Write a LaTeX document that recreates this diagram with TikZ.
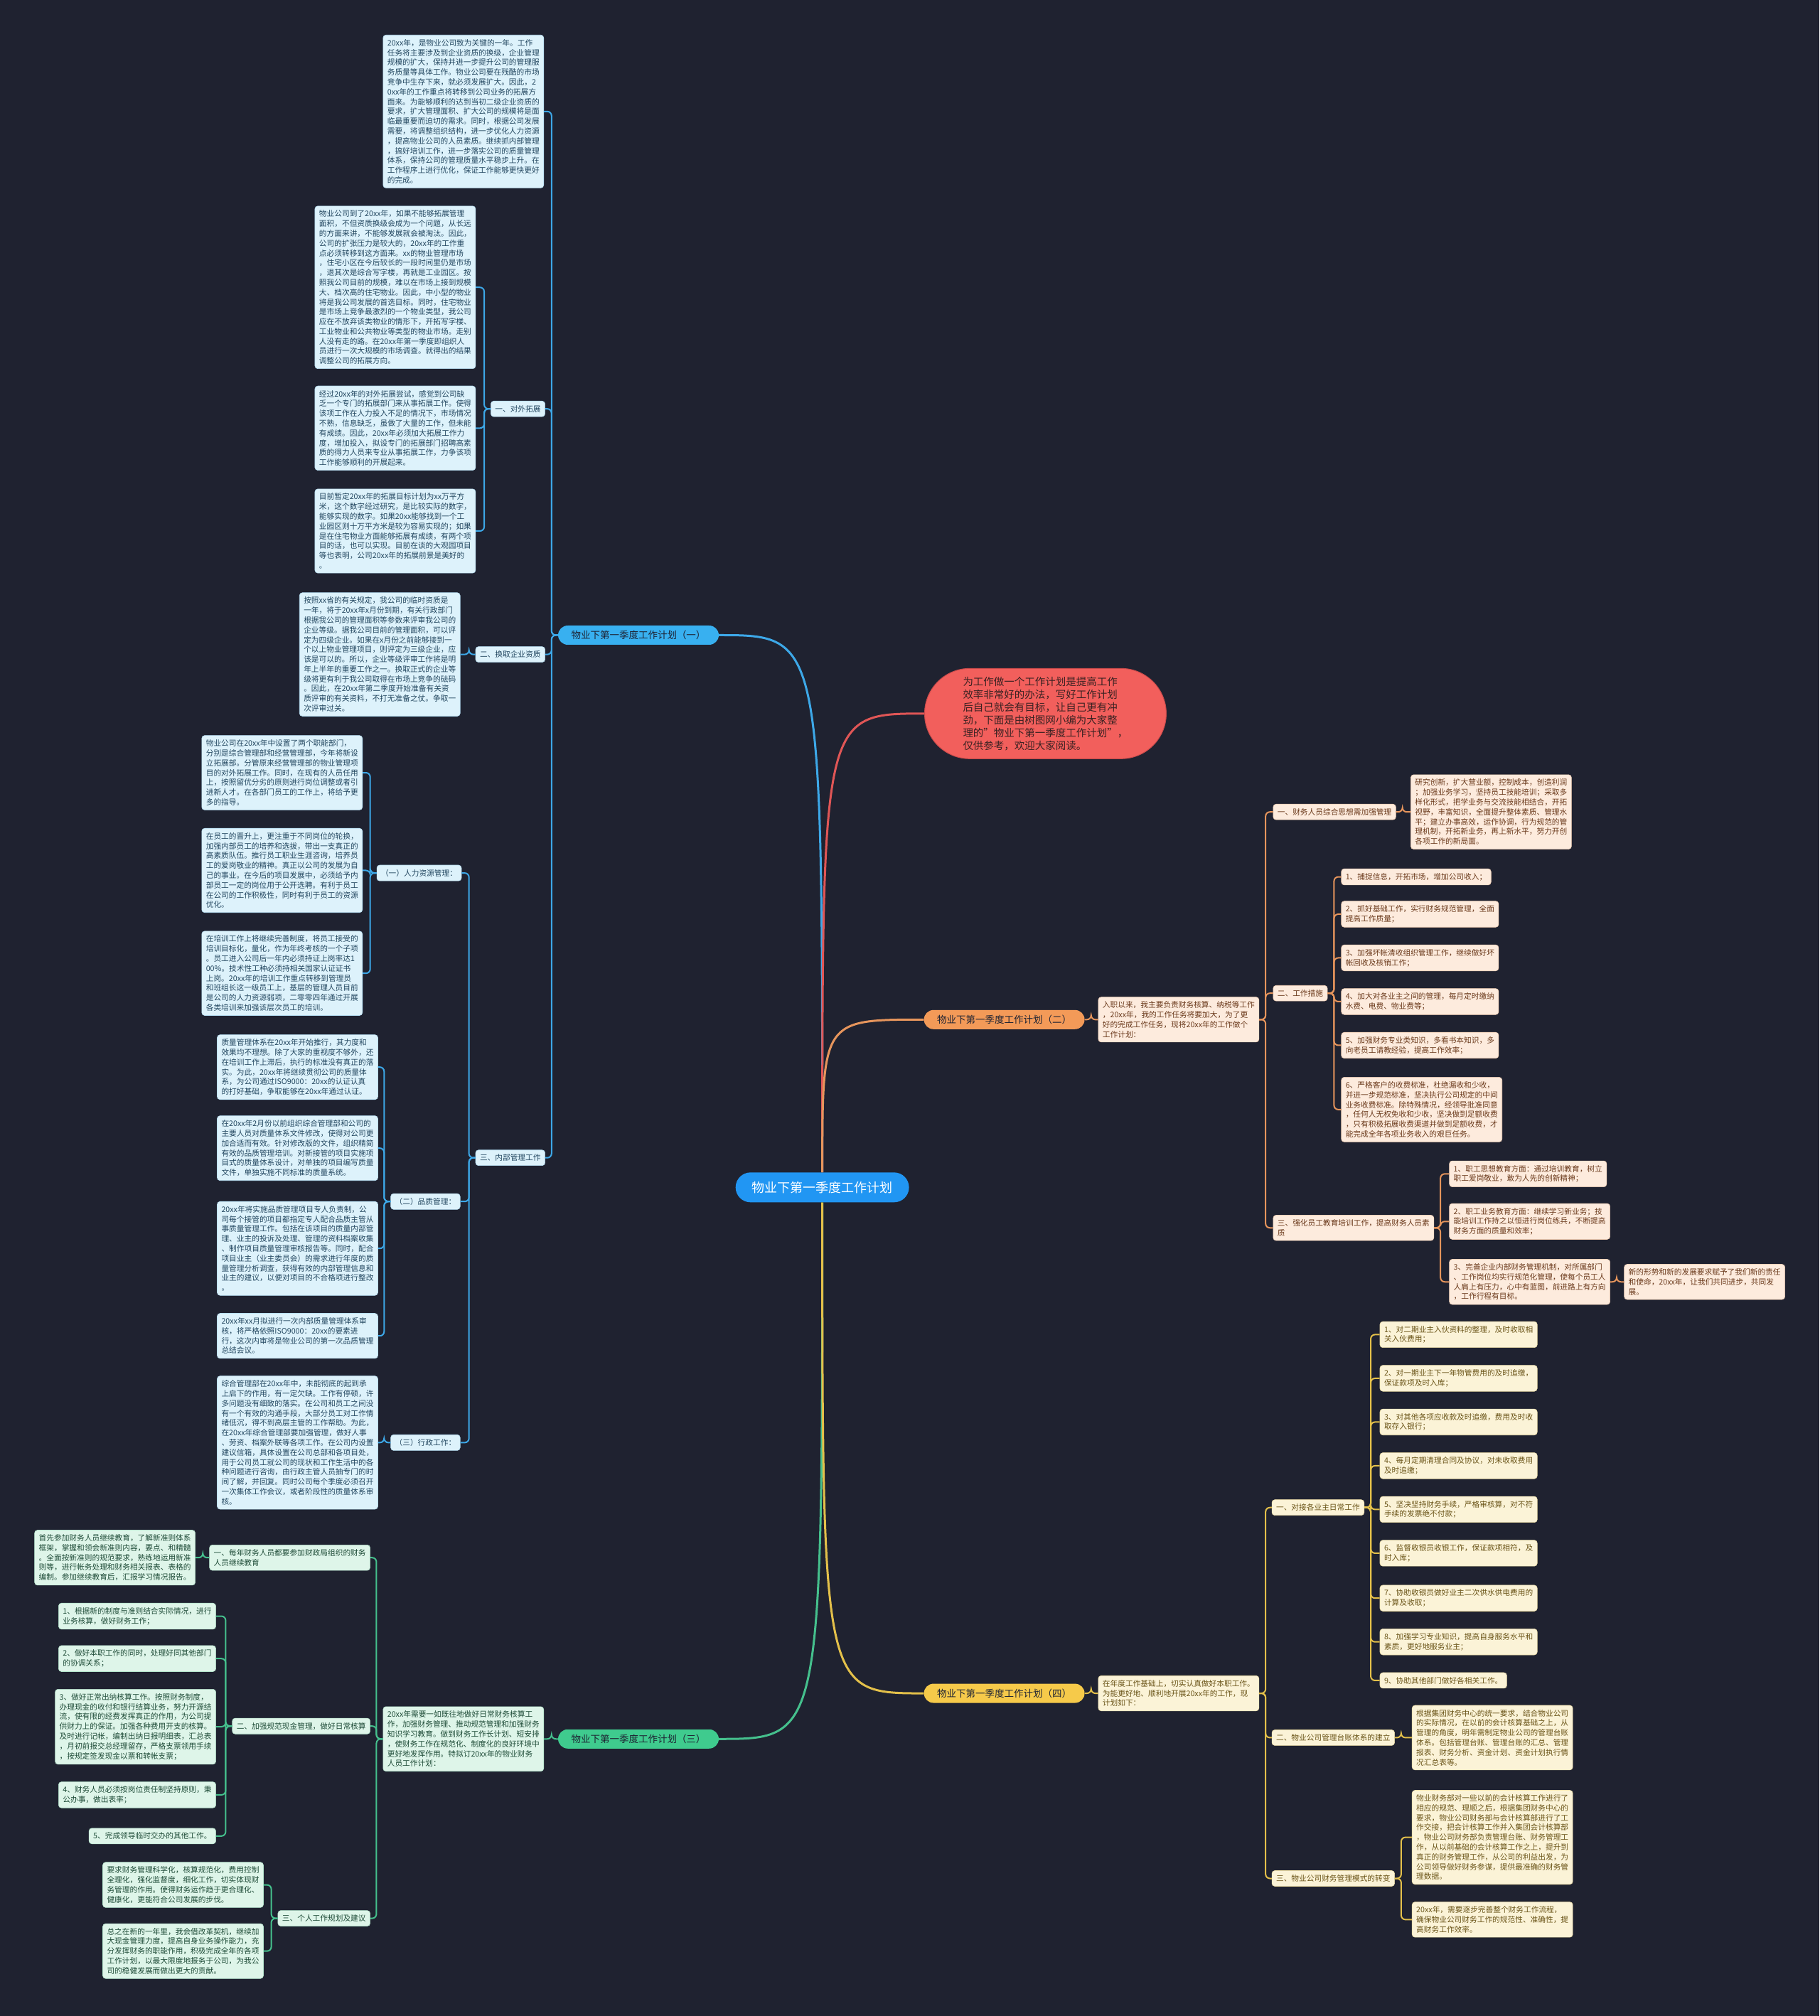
\documentclass[tikz,border=0pt]{standalone}
\usepackage{fontspec}
\setmainfont{Noto Sans CJK SC}
\usetikzlibrary{shapes.misc}
\definecolor{bg}{HTML}{1F2230}
\definecolor{bline}{HTML}{3DA8E8}
\definecolor{bfill}{HTML}{DDF2FB}
\definecolor{bdraw}{HTML}{B5DDF2}
\definecolor{btext}{HTML}{234760}
\definecolor{oline}{HTML}{E6955C}
\definecolor{ofill}{HTML}{FDEBDD}
\definecolor{odraw}{HTML}{F2CFB5}
\definecolor{otext}{HTML}{6B3A1C}
\definecolor{yline}{HTML}{E3C04A}
\definecolor{yfill}{HTML}{FBF3D7}
\definecolor{ydraw}{HTML}{EEDFA8}
\definecolor{ytext}{HTML}{6B5519}
\definecolor{gline}{HTML}{45C08D}
\definecolor{gfill}{HTML}{DEF5E9}
\definecolor{gdraw}{HTML}{B3E3CB}
\definecolor{gtext}{HTML}{1F4C38}
\definecolor{rfill}{HTML}{F25F5C}
\definecolor{rdraw}{HTML}{C94B4B}
\definecolor{rline}{HTML}{E05656}
\definecolor{rtext}{HTML}{3A2222}
\definecolor{cfill}{HTML}{2196F3}
\definecolor{dtext}{HTML}{1E2333}
\definecolor{bmain}{HTML}{38B0F0}
\definecolor{omain}{HTML}{F39A58}
\definecolor{gmain}{HTML}{3FCB8E}
\definecolor{ymain}{HTML}{F6CA4A}
\newcommand\leaffont{\fontsize{10.7pt}{13.8pt}\selectfont}
\newcommand\branchfont{\fontsize{13.5pt}{16pt}\selectfont}
\newcommand\centerfont{\fontsize{18pt}{21pt}\selectfont}
\newcommand\introfont{\fontsize{14.5pt}{18pt}\selectfont}
\newcommand\lconn[3]{\draw[#1] (#2.west) -- ++(-5,0) |- (#3.east);}
\newcommand\rconn[3]{\draw[#1] (#2.east) -- ++(5,0) |- (#3.west);}
\tikzset{
  leaf/.style={rounded corners=4pt, inner xsep=6pt, inner ysep=6pt, align=left, font=\leaffont, line width=0.6pt},
  bl/.style={leaf, fill=bfill, draw=bdraw, text=btext, anchor=east},
  gl/.style={leaf, fill=gfill, draw=gdraw, text=gtext, anchor=east},
  ol/.style={leaf, fill=ofill, draw=odraw, text=otext, anchor=west},
  yl/.style={leaf, fill=yfill, draw=ydraw, text=ytext, anchor=west},
  pill/.style={rounded rectangle, inner sep=0pt, minimum width=226pt, minimum height=27pt, font=\branchfont, text=dtext},
  lb/.style={draw=bline, line width=2pt, rounded corners=6pt},
  lo/.style={draw=oline, line width=2pt, rounded corners=6pt},
  ly/.style={draw=yline, line width=2pt, rounded corners=6pt},
  lg/.style={draw=gline, line width=2pt, rounded corners=6pt},
}
\begin{document}
\begin{tikzpicture}[x=1.80919pt,y=-1.80919pt]
\fill[bg] (0,0) rectangle (1415,1568);
\useasboundingbox (0,0) rectangle (1415,1568);

% centre and intro
\node[rounded rectangle, fill=cfill, text=white, font=\centerfont, minimum width=244pt, minimum height=42pt, inner sep=0pt] (C) at (639.5,923.5) {物业下第一季度工作计划};
\node[rounded rectangle, fill=rfill, draw=rdraw, line width=1pt, text=rtext, font=\introfont, align=left, minimum width=340pt, minimum height=127pt, inner sep=0pt] (R) at (813,555) {为工作做一个工作计划是提高工作\\效率非常好的办法，写好工作计划\\后自己就会有目标，让自己更有冲\\劲，下面是由树图网小编为大家整\\理的"物业下第一季度工作计划"，\\仅供参考，欢迎大家阅读。};

\node[pill, fill=bmain] (B1) at (496.5,494) {物业下第一季度工作计划（一）};
\node[pill, fill=omain] (B2) at (781,793) {物业下第一季度工作计划（二）};
\node[pill, fill=gmain] (B3) at (496.5,1352.5) {物业下第一季度工作计划（三）};
\node[pill, fill=ymain] (B4) at (781,1317) {物业下第一季度工作计划（四）};

% ===== branch 1 (blue)
\node[bl] (a1) at (423,86.7) {20xx年，是物业公司致为关键的一年。工作\\任务将主要涉及到企业资质的换级，企业管理\\规模的扩大，保持并进一步提升公司的管理服\\务质量等具体工作。物业公司要在残酷的市场\\竞争中生存下来，就必须发展扩大。因此，2\\0xx年的工作重点将转移到公司业务的拓展方\\面来。为能够顺利的达到当初二级企业资质的\\要求，扩大管理面积、扩大公司的规模将是面\\临最重要而迫切的需求。同时，根据公司发展\\需要，将调整组织结构，进一步优化人力资源\\，提高物业公司的人员素质。继续抓内部管理\\，搞好培训工作，进一步落实公司的质量管理\\体系，保持公司的管理质量水平稳步上升。在\\工作程序上进行优化，保证工作能够更快更好\\的完成。};
\node[bl] (L1) at (424,318) {一、对外拓展};
\node[bl] (a2) at (370,223.5) {物业公司到了20xx年，如果不能够拓展管理\\面积，不但资质换级会成为一个问题，从长远\\的方面来讲，不能够发展就会被淘汰。因此，\\公司的扩张压力是较大的，20xx年的工作重\\点必须转移到这方面来。xx的物业管理市场\\，住宅小区在今后较长的一段时间里仍是市场\\，退其次是综合写字楼，再就是工业园区。按\\照我公司目前的规模，难以在市场上接到规模\\大、档次高的住宅物业。因此，中小型的物业\\将是我公司发展的首选目标。同时，住宅物业\\是市场上竞争最激烈的一个物业类型，我公司\\应在不放弃该类物业的情形下，开拓写字楼、\\工业物业和公共物业等类型的物业市场。走别\\人没有走的路。在20xx年第一季度即组织人\\员进行一次大规模的市场调查。就得出的结果\\调整公司的拓展方向。};
\node[bl] (a3) at (370,333) {经过20xx年的对外拓展尝试，感觉到公司缺\\乏一个专门的拓展部门来从事拓展工作。使得\\该项工作在人力投入不足的情况下，市场情况\\不熟，信息缺乏，虽做了大量的工作，但未能\\有成绩。因此，20xx年必须加大拓展工作力\\度，增加投入，拟设专门的拓展部门招聘高素\\质的得力人员来专业从事拓展工作，力争该项\\工作能够顺利的开展起来。};
\node[bl] (a4) at (370,413) {目前暂定20xx年的拓展目标计划为xx万平方\\米，这个数字经过研究，是比较实际的数字，\\能够实现的数字。如果20xx能够找到一个工\\业园区则十万平方米是较为容易实现的；如果\\是在住宅物业方面能够拓展有成绩，有两个项\\目的话，也可以实现。目前在谈的大观园项目\\等也表明，公司20xx年的拓展前景是美好的\\。};
\node[bl] (L2) at (424,509) {二、换取企业资质};
\node[bl] (a5) at (358,509) {按照xx省的有关规定，我公司的临时资质是\\一年，将于20xx年x月份到期，有关行政部门\\根据我公司的管理面积等参数来评审我公司的\\企业等级。据我公司目前的管理面积，可以评\\定为四级企业。如果在x月份之前能够接到一\\个以上物业管理项目，则评定为三级企业，应\\该是可以的。所以，企业等级评审工作将是明\\年上半年的重要工作之一。换取正式的企业等\\级将更有利于我公司取得在市场上竞争的砝码\\。因此，在20xx年第二季度开始准备有关资\\质评审的有关资料，不打无准备之仗。争取一\\次评审过关。};
\node[bl] (L3) at (424,900.5) {三、内部管理工作};
\node[bl] (H1) at (359,679) {（一）人力资源管理：};
\node[bl] (a6) at (282,601) {物业公司在20xx年中设置了两个职能部门，\\分别是综合管理部和经营管理部，今年将新设\\立拓展部。分管原来经营管理部的物业管理项\\目的对外拓展工作。同时，在现有的人员任用\\上，按照留优分劣的原则进行岗位调整或者引\\进新人才。在各部门员工的工作上，将给予更\\多的指导。};
\node[bl] (a7) at (282,677) {在员工的晋升上，更注重于不同岗位的轮换，\\加强内部员工的培养和选拔，带出一支真正的\\高素质队伍。推行员工职业生涯咨询，培养员\\工的爱岗敬业的精神。真正以公司的发展为自\\己的事业。在今后的项目发展中，必须给予内\\部员工一定的岗位用于公开选聘。有利于员工\\在公司的工作积极性，同时有利于员工的资源\\优化。};
\node[bl] (a8) at (282,757) {在培训工作上将继续完善制度，将员工接受的\\培训目标化，量化，作为年终考核的一个子项\\。员工进入公司后一年内必须持证上岗率达1\\00\%。技术性工种必须持相关国家认证证书\\上岗。20xx年的培训工作重点转移到管理员\\和班组长这一级员工上，基层的管理人员目前\\是公司的人力资源弱项，二零零四年通过开展\\各类培训来加强该层次员工的培训。};
\node[bl] (H2) at (358,934.5) {（二）品质管理：};
\node[bl] (a9) at (294,830) {质量管理体系在20xx年开始推行，其力度和\\效果均不理想。除了大家的重视度不够外，还\\在培训工作上滞后，执行的标准没有真正的落\\实。为此，20xx年将继续贯彻公司的质量体\\系，为公司通过ISO9000：20xx的认证认真\\的打好基础，争取能够在20xx年通过认证。};
\node[bl] (a10) at (294,893) {在20xx年2月份以前组织综合管理部和公司的\\主要人员对质量体系文件修改，使得对公司更\\加合适而有效。针对修改版的文件，组织精简\\有效的品质管理培训。对新接管的项目实施项\\目式的质量体系设计，对单独的项目编写质量\\文件，单独实施不同标准的质量系统。};
\node[bl] (a11) at (294,971) {20xx年将实施品质管理项目专人负责制，公\\司每个接管的项目都指定专人配合品质主管从\\事质量管理工作。包括在该项目的质量内部管\\理、业主的投诉及处理、管理的资料档案收集\\、制作项目质量管理审核报告等。同时，配合\\项目业主（业主委员会）的需求进行年度的质\\量管理分析调查，获得有效的内部管理信息和\\业主的建议，以便对项目的不合格项进行整改\\。};
\node[bl] (a12) at (294,1039) {20xx年xx月拟进行一次内部质量管理体系审\\核，将严格依照ISO9000：20xx的要素进\\行，这次内审将是物业公司的第一次品质管理\\总结会议。};
\node[bl] (H3) at (358,1122) {（三）行政工作：};
\node[bl] (a13) at (294,1122) {综合管理部在20xx年中，未能彻底的起到承\\上启下的作用，有一定欠缺。工作有停顿，许\\多问题没有细致的落实。在公司和员工之间没\\有一个有效的沟通手段，大部分员工对工作情\\绪低沉，得不到高层主管的工作帮助。为此，\\在20xx年综合管理部要加强管理，做好人事\\、劳资、档案外联等各项工作。在公司内设置\\建议信箱，具体设置在公司总部和各项目处，\\用于公司员工就公司的现状和工作生活中的各\\种问题进行咨询，由行政主管人员抽专门的时\\间了解，并回复。同时公司每个季度必须召开\\一次集体工作会议，或者阶段性的质量体系审\\核。};

% ===== branch 3 (green)
\node[gl] (g0) at (423,1352.5) {20xx年需要一如既往地做好日常财务核算工\\作，加强财务管理、推动规范管理和加强财务\\知识学习教育。做到财务工作长计划、短安排\\，使财务工作在规范化、制度化的良好环境中\\更好地发挥作用。特拟订20xx年的物业财务\\人员工作计划：};
\node[gl] (G1) at (288,1211.5) {一、每年财务人员都要参加财政局组织的财务\\人员继续教育};
\node[gl] (g1) at (152,1211.5) {首先参加财务人员继续教育，了解新准则体系\\框架，掌握和领会新准则内容，要点、和精髓\\。全面按新准则的规范要求，熟练地运用新准\\则等，进行帐务处理和财务相关报表、表格的\\编制。参加继续教育后，汇报学习情况报告。};
\node[gl] (G2) at (288,1342.5) {二、加强规范现金管理，做好日常核算};
\node[gl] (g2) at (168,1257) {1、根据新的制度与准则结合实际情况，进行\\业务核算，做好财务工作；};
\node[gl] (g3) at (168,1290) {2、做好本职工作的同时，处理好同其他部门\\的协调关系；};
\node[gl] (g4) at (168,1343) {3、做好正常出纳核算工作。按照财务制度，\\办理现金的收付和银行结算业务，努力开源结\\流，使有限的经费发挥真正的作用，为公司提\\供财力上的保证。加强各种费用开支的核算。\\及时进行记帐，编制出纳日报明细表，汇总表\\，月初前报交总经理留存，严格支票领用手续\\，按规定签发现金以票和转帐支票；};
\node[gl] (g5) at (168,1396) {4、财务人员必须按岗位责任制坚持原则，秉\\公办事，做出表率；};
\node[gl] (g6) at (168,1428) {5、完成领导临时交办的其他工作。};
\node[gl] (G3) at (288,1492) {三、个人工作规划及建议};
\node[gl] (g7) at (205,1466) {要求财务管理科学化，核算规范化，费用控制\\全理化，强化监督度，细化工作，切实体现财\\务管理的作用。使得财务运作趋于更合理化、\\健康化，更能符合公司发展的步伐。};
\node[gl] (g8) at (205,1517.5) {总之在新的一年里，我会借改革契机，继续加\\大现金管理力度，提高自身业务操作能力，充\\分发挥财务的职能作用，积极完成全年的各项\\工作计划，以最大限度地报务于公司，为我公\\司的稳健发展而做出更大的贡献。};

% ===== branch 2 (orange)
\node[ol] (o0) at (854,793) {入职以来，我主要负责财务核算、纳税等工作\\，20xx年，我的工作任务将要加大，为了更\\好的完成工作任务，现将20xx年的工作做个\\工作计划：};
\node[ol] (O1) at (990,631.5) {一、财务人员综合思想需加强管理};
\node[ol] (o1) at (1097,631.5) {研究创新，扩大营业额，控制成本，创造利润\\；加强业务学习，坚持员工技能培训；采取多\\样化形式，把学业务与交流技能相结合，开拓\\视野，丰富知识，全面提升整体素质、管理水\\平；建立办事高效，运作协调，行为规范的管\\理机制，开拓新业务，再上新水平，努力开创\\各项工作的新局面。};
\node[ol] (O2) at (990,772.5) {二、工作措施};
\node[ol] (o2) at (1043,682) {1、捕捉信息，开拓市场，增加公司收入；};
\node[ol] (o3) at (1043,711) {2、抓好基础工作，实行财务规范管理，全面\\提高工作质量；};
\node[ol] (o4) at (1043,745) {3、加强坏帐清收组织管理工作，继续做好坏\\帐回收及核销工作；};
\node[ol] (o5) at (1043,779) {4、加大对各业主之间的管理，每月定时缴纳\\水费、电费、物业费等；};
\node[ol] (o6) at (1043,813) {5、加强财务专业类知识，多看书本知识，多\\向老员工请教经验，提高工作效率；};
\node[ol] (o7) at (1043,863) {6、严格客户的收费标准，杜绝漏收和少收，\\并进一步规范标准，坚决执行公司规定的中间\\业务收费标准。除特殊情况，经领导批准同意\\，任何人无权免收和少收，坚决做到足额收费\\，只有积极拓展收费渠道并做到足额收费，才\\能完成全年各项业务收入的艰巨任务。};
\node[ol] (O3) at (990,955) {三、强化员工教育培训工作，提高财务人员素\\质};
\node[ol] (o8) at (1127,913) {1、职工思想教育方面：通过培训教育，树立\\职工爱岗敬业，敢为人先的创新精神；};
\node[ol] (o9) at (1127,950) {2、职工业务教育方面：继续学习新业务；技\\能培训工作持之以恒进行岗位练兵，不断提高\\财务方面的质量和效率；};
\node[ol] (o10) at (1127,997) {3、完善企业内部财务管理机制，对所属部门\\、工作岗位均实行规范化管理，使每个员工人\\人肩上有压力，心中有蓝图，前进路上有方向\\，工作行程有目标。};
\node[ol] (o11) at (1263,997) {新的形势和新的发展要求赋予了我们新的责任\\和使命，20xx年，让我们共同进步，共同发\\展。};

% ===== branch 4 (yellow)
\node[yl] (y0) at (854,1317) {在年度工作基础上，切实认真做好本职工作。\\为能更好地、顺利地开展20xx年的工作，现\\计划如下：};
\node[yl] (Y1) at (989,1172.5) {一、对接各业主日常工作};
\node[yl] (y1) at (1073,1038) {1、对二期业主入伙资料的整理，及时收取相\\关入伙费用；};
\node[yl] (y2) at (1073,1072) {2、对一期业主下一年物管费用的及时追缴，\\保证款项及时入库；};
\node[yl] (y3) at (1073,1106) {3、对其他各项应收款及时追缴，费用及时收\\取存入银行；};
\node[yl] (y4) at (1073,1140) {4、每月定期清理合同及协议，对未收取费用\\及时追缴；};
\node[yl] (y5) at (1073,1174) {5、坚决坚持财务手续，严格审核算，对不符\\手续的发票绝不付款；};
\node[yl] (y6) at (1073,1208) {6、监督收银员收银工作，保证款项相符，及\\时入库；};
\node[yl] (y7) at (1073,1243) {7、协助收银员做好业主二次供水供电费用的\\计算及收取；};
\node[yl] (y8) at (1073,1277) {8、加强学习专业知识，提高自身服务水平和\\素质，更好地服务业主；};
\node[yl] (y9) at (1073,1307) {9、协助其他部门做好各相关工作。};
\node[yl] (Y2) at (989,1351.5) {二、物业公司管理台账体系的建立};
\node[yl] (y10) at (1098,1351.5) {根据集团财务中心的统一要求，结合物业公司\\的实际情况，在以前的会计核算基础之上，从\\管理的角度，明年需制定物业公司的管理台账\\体系。包括管理台账、管理台账的汇总、管理\\报表、财务分析、资金计划、资金计划执行情\\况汇总表等。};
\node[yl] (Y3) at (989,1461) {三、物业公司财务管理模式的转变};
\node[yl] (y11) at (1098,1429) {物业财务部对一些以前的会计核算工作进行了\\相应的规范、理顺之后，根据集团财务中心的\\要求，物业公司财务部与会计核算部进行了工\\作交接，把会计核算工作并入集团会计核算部\\，物业公司财务部负责管理台账、财务管理工\\作，从以前基础的会计核算工作之上，提升到\\真正的财务管理工作，从公司的利益出发，为\\公司领导做好财务参谋，提供最准确的财务管\\理数据。};
\node[yl] (y12) at (1098,1493) {20xx年，需要逐步完善整个财务工作流程，\\确保物业公司财务工作的规范性、准确性，提\\高财务工作效率。};

% ===== main curves
\draw[draw=bline, line width=3pt] (C.north) .. controls (C.north |- B1.east) .. (B1.east);
\draw[draw=rline, line width=3pt] (C.north) .. controls (C.north |- R.west) .. (R.west);
\draw[draw=oline, line width=3pt] (C.north) .. controls (C.north |- B2.west) .. (B2.west);
\draw[draw=gline, line width=3pt] (C.south) .. controls (C.south |- B3.east) .. (B3.east);
\draw[draw=yline, line width=3pt] (C.south) .. controls (C.south |- B4.west) .. (B4.west);

% ===== blue connectors
\lconn{lb}{B1}{a1}\lconn{lb}{B1}{L1}\lconn{lb}{B1}{L2}\lconn{lb}{B1}{L3}
\lconn{lb}{L1}{a2}\lconn{lb}{L1}{a3}\lconn{lb}{L1}{a4}
\lconn{lb}{L2}{a5}
\lconn{lb}{L3}{H1}\lconn{lb}{L3}{H2}\lconn{lb}{L3}{H3}
\lconn{lb}{H1}{a6}\lconn{lb}{H1}{a7}\lconn{lb}{H1}{a8}
\lconn{lb}{H2}{a9}\lconn{lb}{H2}{a10}\lconn{lb}{H2}{a11}\lconn{lb}{H2}{a12}
\lconn{lb}{H3}{a13}
% ===== green connectors
\lconn{lg}{B3}{g0}
\lconn{lg}{g0}{G1}\lconn{lg}{g0}{G2}\lconn{lg}{g0}{G3}
\lconn{lg}{G1}{g1}
\lconn{lg}{G2}{g2}\lconn{lg}{G2}{g3}\lconn{lg}{G2}{g4}\lconn{lg}{G2}{g5}\lconn{lg}{G2}{g6}
\lconn{lg}{G3}{g7}\lconn{lg}{G3}{g8}
% ===== orange connectors
\rconn{lo}{B2}{o0}
\rconn{lo}{o0}{O1}\rconn{lo}{o0}{O2}\rconn{lo}{o0}{O3}
\rconn{lo}{O1}{o1}
\rconn{lo}{O2}{o2}\rconn{lo}{O2}{o3}\rconn{lo}{O2}{o4}\rconn{lo}{O2}{o5}\rconn{lo}{O2}{o6}\rconn{lo}{O2}{o7}
\rconn{lo}{O3}{o8}\rconn{lo}{O3}{o9}\rconn{lo}{O3}{o10}
\rconn{lo}{o10}{o11}
% ===== yellow connectors
\rconn{ly}{B4}{y0}
\rconn{ly}{y0}{Y1}\rconn{ly}{y0}{Y2}\rconn{ly}{y0}{Y3}
\rconn{ly}{Y1}{y1}\rconn{ly}{Y1}{y2}\rconn{ly}{Y1}{y3}\rconn{ly}{Y1}{y4}\rconn{ly}{Y1}{y5}\rconn{ly}{Y1}{y6}\rconn{ly}{Y1}{y7}\rconn{ly}{Y1}{y8}\rconn{ly}{Y1}{y9}
\rconn{ly}{Y2}{y10}
\rconn{ly}{Y3}{y11}\rconn{ly}{Y3}{y12}
\end{tikzpicture}
\end{document}
